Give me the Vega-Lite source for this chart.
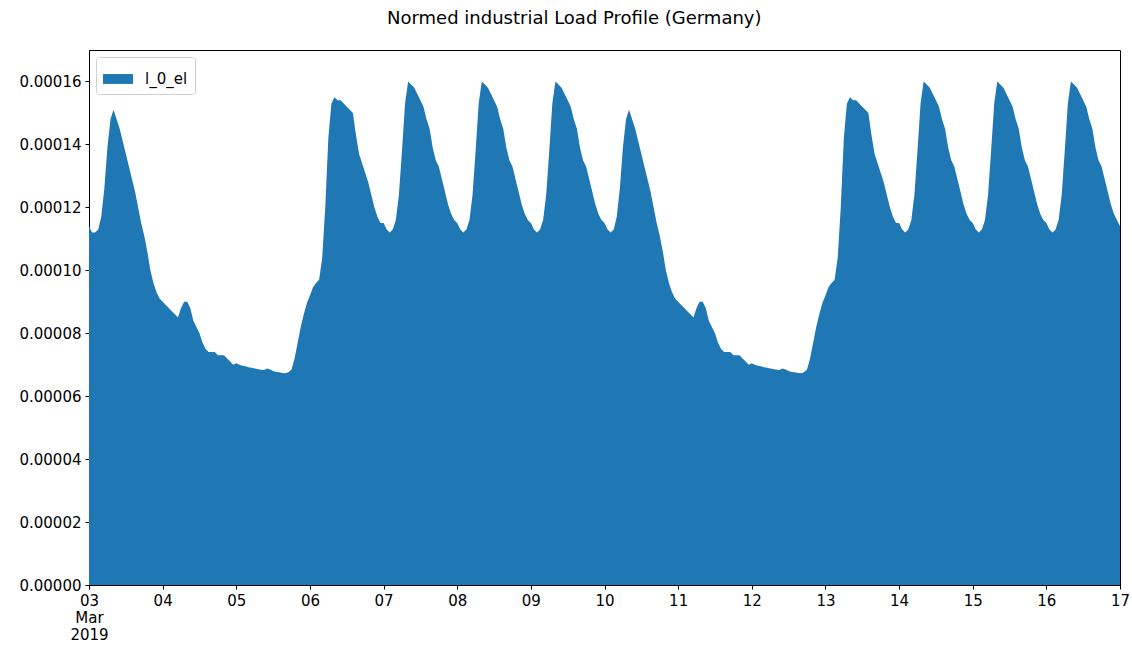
{
  "$schema": "https://vega.github.io/schema/vega-lite/v6.json",
  "width": 1031,
  "height": 535,
  "autosize": "none",
  "padding": {"left": 89, "top": 50, "right": 12, "bottom": 66},
  "background": "white",
  "config": {"font": "DejaVu Sans", "view": {"stroke": "black", "strokeWidth": 1}},
  "title": {"text": "Normed industrial Load Profile (Germany)", "fontSize": 18, "fontWeight": "normal", "font": "DejaVu Sans", "color": "black", "frame": "bounds", "anchor": "middle", "offset": 22},
  "data": {"values": [
{"t":"2019-03-03T00:00","v":1.14e-4},{"t":"2019-03-03T01:00","v":1.12e-4},{"t":"2019-03-03T02:00","v":1.12e-4},{"t":"2019-03-03T03:00","v":1.13e-4},{"t":"2019-03-03T04:00","v":1.17e-4},{"t":"2019-03-03T05:00","v":1.26e-4},{"t":"2019-03-03T06:00","v":1.39e-4},{"t":"2019-03-03T07:00","v":1.48e-4},{"t":"2019-03-03T08:00","v":1.51e-4},{"t":"2019-03-03T09:00","v":1.48e-4},{"t":"2019-03-03T10:00","v":1.45e-4},{"t":"2019-03-03T11:00","v":1.41e-4},{"t":"2019-03-03T12:00","v":1.37e-4},{"t":"2019-03-03T13:00","v":1.33e-4},{"t":"2019-03-03T14:00","v":1.29e-4},{"t":"2019-03-03T15:00","v":1.25e-4},{"t":"2019-03-03T16:00","v":1.20e-4},{"t":"2019-03-03T17:00","v":1.15e-4},{"t":"2019-03-03T18:00","v":1.11e-4},{"t":"2019-03-03T19:00","v":1.06e-4},{"t":"2019-03-03T20:00","v":1.00e-4},{"t":"2019-03-03T21:00","v":9.6e-5},{"t":"2019-03-03T22:00","v":9.3e-5},{"t":"2019-03-03T23:00","v":9.1e-5},
{"t":"2019-03-04T00:00","v":9.0e-5},{"t":"2019-03-04T01:00","v":8.9e-5},{"t":"2019-03-04T02:00","v":8.8e-5},{"t":"2019-03-04T03:00","v":8.7e-5},{"t":"2019-03-04T04:00","v":8.6e-5},{"t":"2019-03-04T05:00","v":8.5e-5},{"t":"2019-03-04T06:00","v":8.8e-5},{"t":"2019-03-04T07:00","v":9.0e-5},{"t":"2019-03-04T08:00","v":9.0e-5},{"t":"2019-03-04T09:00","v":8.8e-5},{"t":"2019-03-04T10:00","v":8.4e-5},{"t":"2019-03-04T11:00","v":8.2e-5},{"t":"2019-03-04T12:00","v":8.0e-5},{"t":"2019-03-04T13:00","v":7.7e-5},{"t":"2019-03-04T14:00","v":7.5e-5},{"t":"2019-03-04T15:00","v":7.4e-5},{"t":"2019-03-04T16:00","v":7.4e-5},{"t":"2019-03-04T17:00","v":7.4e-5},{"t":"2019-03-04T18:00","v":7.3e-5},{"t":"2019-03-04T19:00","v":7.3e-5},{"t":"2019-03-04T20:00","v":7.3e-5},{"t":"2019-03-04T21:00","v":7.2e-5},{"t":"2019-03-04T22:00","v":7.1e-5},{"t":"2019-03-04T23:00","v":7.0e-5},
{"t":"2019-03-05T00:00","v":7.05e-5},{"t":"2019-03-05T01:00","v":7.0e-5},{"t":"2019-03-05T02:00","v":6.97e-5},{"t":"2019-03-05T03:00","v":6.95e-5},{"t":"2019-03-05T04:00","v":6.92e-5},{"t":"2019-03-05T05:00","v":6.9e-5},{"t":"2019-03-05T06:00","v":6.88e-5},{"t":"2019-03-05T07:00","v":6.86e-5},{"t":"2019-03-05T08:00","v":6.84e-5},{"t":"2019-03-05T09:00","v":6.83e-5},{"t":"2019-03-05T10:00","v":6.88e-5},{"t":"2019-03-05T11:00","v":6.85e-5},{"t":"2019-03-05T12:00","v":6.8e-5},{"t":"2019-03-05T13:00","v":6.77e-5},{"t":"2019-03-05T14:00","v":6.76e-5},{"t":"2019-03-05T15:00","v":6.74e-5},{"t":"2019-03-05T16:00","v":6.73e-5},{"t":"2019-03-05T17:00","v":6.76e-5},{"t":"2019-03-05T18:00","v":6.85e-5},{"t":"2019-03-05T19:00","v":7.2e-5},{"t":"2019-03-05T20:00","v":7.7e-5},{"t":"2019-03-05T21:00","v":8.2e-5},{"t":"2019-03-05T22:00","v":8.6e-5},{"t":"2019-03-05T23:00","v":8.95e-5},
{"t":"2019-03-06T00:00","v":9.2e-5},{"t":"2019-03-06T01:00","v":9.46e-5},{"t":"2019-03-06T02:00","v":9.6e-5},{"t":"2019-03-06T03:00","v":9.7e-5},{"t":"2019-03-06T04:00","v":1.04e-4},{"t":"2019-03-06T05:00","v":1.20e-4},{"t":"2019-03-06T06:00","v":1.42e-4},{"t":"2019-03-06T07:00","v":1.53e-4},{"t":"2019-03-06T08:00","v":1.55e-4},{"t":"2019-03-06T09:00","v":1.54e-4},{"t":"2019-03-06T10:00","v":1.54e-4},{"t":"2019-03-06T11:00","v":1.53e-4},{"t":"2019-03-06T12:00","v":1.52e-4},{"t":"2019-03-06T13:00","v":1.51e-4},{"t":"2019-03-06T14:00","v":1.50e-4},{"t":"2019-03-06T15:00","v":1.43e-4},{"t":"2019-03-06T16:00","v":1.37e-4},{"t":"2019-03-06T17:00","v":1.34e-4},{"t":"2019-03-06T18:00","v":1.31e-4},{"t":"2019-03-06T19:00","v":1.28e-4},{"t":"2019-03-06T20:00","v":1.24e-4},{"t":"2019-03-06T21:00","v":1.20e-4},{"t":"2019-03-06T22:00","v":1.17e-4},{"t":"2019-03-06T23:00","v":1.15e-4},
{"t":"2019-03-07T00:00","v":1.15e-4},{"t":"2019-03-07T01:00","v":1.13e-4},{"t":"2019-03-07T02:00","v":1.12e-4},{"t":"2019-03-07T03:00","v":1.13e-4},{"t":"2019-03-07T04:00","v":1.16e-4},{"t":"2019-03-07T05:00","v":1.24e-4},{"t":"2019-03-07T06:00","v":1.38e-4},{"t":"2019-03-07T07:00","v":1.53e-4},{"t":"2019-03-07T08:00","v":1.60e-4},{"t":"2019-03-07T09:00","v":1.59e-4},{"t":"2019-03-07T10:00","v":1.58e-4},{"t":"2019-03-07T11:00","v":1.56e-4},{"t":"2019-03-07T12:00","v":1.54e-4},{"t":"2019-03-07T13:00","v":1.52e-4},{"t":"2019-03-07T14:00","v":1.48e-4},{"t":"2019-03-07T15:00","v":1.45e-4},{"t":"2019-03-07T16:00","v":1.39e-4},{"t":"2019-03-07T17:00","v":1.35e-4},{"t":"2019-03-07T18:00","v":1.33e-4},{"t":"2019-03-07T19:00","v":1.29e-4},{"t":"2019-03-07T20:00","v":1.25e-4},{"t":"2019-03-07T21:00","v":1.21e-4},{"t":"2019-03-07T22:00","v":1.18e-4},{"t":"2019-03-07T23:00","v":1.16e-4},
{"t":"2019-03-08T00:00","v":1.15e-4},{"t":"2019-03-08T01:00","v":1.13e-4},{"t":"2019-03-08T02:00","v":1.12e-4},{"t":"2019-03-08T03:00","v":1.13e-4},{"t":"2019-03-08T04:00","v":1.16e-4},{"t":"2019-03-08T05:00","v":1.24e-4},{"t":"2019-03-08T06:00","v":1.38e-4},{"t":"2019-03-08T07:00","v":1.53e-4},{"t":"2019-03-08T08:00","v":1.60e-4},{"t":"2019-03-08T09:00","v":1.59e-4},{"t":"2019-03-08T10:00","v":1.58e-4},{"t":"2019-03-08T11:00","v":1.56e-4},{"t":"2019-03-08T12:00","v":1.54e-4},{"t":"2019-03-08T13:00","v":1.52e-4},{"t":"2019-03-08T14:00","v":1.48e-4},{"t":"2019-03-08T15:00","v":1.45e-4},{"t":"2019-03-08T16:00","v":1.39e-4},{"t":"2019-03-08T17:00","v":1.35e-4},{"t":"2019-03-08T18:00","v":1.33e-4},{"t":"2019-03-08T19:00","v":1.29e-4},{"t":"2019-03-08T20:00","v":1.25e-4},{"t":"2019-03-08T21:00","v":1.21e-4},{"t":"2019-03-08T22:00","v":1.18e-4},{"t":"2019-03-08T23:00","v":1.16e-4},
{"t":"2019-03-09T00:00","v":1.15e-4},{"t":"2019-03-09T01:00","v":1.13e-4},{"t":"2019-03-09T02:00","v":1.12e-4},{"t":"2019-03-09T03:00","v":1.13e-4},{"t":"2019-03-09T04:00","v":1.16e-4},{"t":"2019-03-09T05:00","v":1.24e-4},{"t":"2019-03-09T06:00","v":1.38e-4},{"t":"2019-03-09T07:00","v":1.53e-4},{"t":"2019-03-09T08:00","v":1.60e-4},{"t":"2019-03-09T09:00","v":1.59e-4},{"t":"2019-03-09T10:00","v":1.58e-4},{"t":"2019-03-09T11:00","v":1.56e-4},{"t":"2019-03-09T12:00","v":1.54e-4},{"t":"2019-03-09T13:00","v":1.52e-4},{"t":"2019-03-09T14:00","v":1.48e-4},{"t":"2019-03-09T15:00","v":1.45e-4},{"t":"2019-03-09T16:00","v":1.39e-4},{"t":"2019-03-09T17:00","v":1.35e-4},{"t":"2019-03-09T18:00","v":1.33e-4},{"t":"2019-03-09T19:00","v":1.29e-4},{"t":"2019-03-09T20:00","v":1.25e-4},{"t":"2019-03-09T21:00","v":1.21e-4},{"t":"2019-03-09T22:00","v":1.18e-4},{"t":"2019-03-09T23:00","v":1.16e-4},
{"t":"2019-03-10T00:00","v":1.15e-4},{"t":"2019-03-10T01:00","v":1.13e-4},{"t":"2019-03-10T02:00","v":1.12e-4},{"t":"2019-03-10T03:00","v":1.13e-4},{"t":"2019-03-10T04:00","v":1.17e-4},{"t":"2019-03-10T05:00","v":1.26e-4},{"t":"2019-03-10T06:00","v":1.39e-4},{"t":"2019-03-10T07:00","v":1.48e-4},{"t":"2019-03-10T08:00","v":1.51e-4},{"t":"2019-03-10T09:00","v":1.48e-4},{"t":"2019-03-10T10:00","v":1.45e-4},{"t":"2019-03-10T11:00","v":1.41e-4},{"t":"2019-03-10T12:00","v":1.37e-4},{"t":"2019-03-10T13:00","v":1.33e-4},{"t":"2019-03-10T14:00","v":1.29e-4},{"t":"2019-03-10T15:00","v":1.25e-4},{"t":"2019-03-10T16:00","v":1.20e-4},{"t":"2019-03-10T17:00","v":1.15e-4},{"t":"2019-03-10T18:00","v":1.11e-4},{"t":"2019-03-10T19:00","v":1.06e-4},{"t":"2019-03-10T20:00","v":1.00e-4},{"t":"2019-03-10T21:00","v":9.6e-5},{"t":"2019-03-10T22:00","v":9.3e-5},{"t":"2019-03-10T23:00","v":9.1e-5},
{"t":"2019-03-11T00:00","v":9.0e-5},{"t":"2019-03-11T01:00","v":8.9e-5},{"t":"2019-03-11T02:00","v":8.8e-5},{"t":"2019-03-11T03:00","v":8.7e-5},{"t":"2019-03-11T04:00","v":8.6e-5},{"t":"2019-03-11T05:00","v":8.5e-5},{"t":"2019-03-11T06:00","v":8.8e-5},{"t":"2019-03-11T07:00","v":9.0e-5},{"t":"2019-03-11T08:00","v":9.0e-5},{"t":"2019-03-11T09:00","v":8.8e-5},{"t":"2019-03-11T10:00","v":8.4e-5},{"t":"2019-03-11T11:00","v":8.2e-5},{"t":"2019-03-11T12:00","v":8.0e-5},{"t":"2019-03-11T13:00","v":7.7e-5},{"t":"2019-03-11T14:00","v":7.5e-5},{"t":"2019-03-11T15:00","v":7.4e-5},{"t":"2019-03-11T16:00","v":7.4e-5},{"t":"2019-03-11T17:00","v":7.4e-5},{"t":"2019-03-11T18:00","v":7.3e-5},{"t":"2019-03-11T19:00","v":7.3e-5},{"t":"2019-03-11T20:00","v":7.3e-5},{"t":"2019-03-11T21:00","v":7.2e-5},{"t":"2019-03-11T22:00","v":7.1e-5},{"t":"2019-03-11T23:00","v":7.0e-5},
{"t":"2019-03-12T00:00","v":7.05e-5},{"t":"2019-03-12T01:00","v":7.0e-5},{"t":"2019-03-12T02:00","v":6.97e-5},{"t":"2019-03-12T03:00","v":6.95e-5},{"t":"2019-03-12T04:00","v":6.92e-5},{"t":"2019-03-12T05:00","v":6.9e-5},{"t":"2019-03-12T06:00","v":6.88e-5},{"t":"2019-03-12T07:00","v":6.86e-5},{"t":"2019-03-12T08:00","v":6.84e-5},{"t":"2019-03-12T09:00","v":6.83e-5},{"t":"2019-03-12T10:00","v":6.88e-5},{"t":"2019-03-12T11:00","v":6.85e-5},{"t":"2019-03-12T12:00","v":6.8e-5},{"t":"2019-03-12T13:00","v":6.77e-5},{"t":"2019-03-12T14:00","v":6.76e-5},{"t":"2019-03-12T15:00","v":6.74e-5},{"t":"2019-03-12T16:00","v":6.73e-5},{"t":"2019-03-12T17:00","v":6.76e-5},{"t":"2019-03-12T18:00","v":6.85e-5},{"t":"2019-03-12T19:00","v":7.2e-5},{"t":"2019-03-12T20:00","v":7.7e-5},{"t":"2019-03-12T21:00","v":8.2e-5},{"t":"2019-03-12T22:00","v":8.6e-5},{"t":"2019-03-12T23:00","v":8.95e-5},
{"t":"2019-03-13T00:00","v":9.2e-5},{"t":"2019-03-13T01:00","v":9.46e-5},{"t":"2019-03-13T02:00","v":9.6e-5},{"t":"2019-03-13T03:00","v":9.7e-5},{"t":"2019-03-13T04:00","v":1.04e-4},{"t":"2019-03-13T05:00","v":1.20e-4},{"t":"2019-03-13T06:00","v":1.42e-4},{"t":"2019-03-13T07:00","v":1.53e-4},{"t":"2019-03-13T08:00","v":1.55e-4},{"t":"2019-03-13T09:00","v":1.54e-4},{"t":"2019-03-13T10:00","v":1.54e-4},{"t":"2019-03-13T11:00","v":1.53e-4},{"t":"2019-03-13T12:00","v":1.52e-4},{"t":"2019-03-13T13:00","v":1.51e-4},{"t":"2019-03-13T14:00","v":1.50e-4},{"t":"2019-03-13T15:00","v":1.43e-4},{"t":"2019-03-13T16:00","v":1.37e-4},{"t":"2019-03-13T17:00","v":1.34e-4},{"t":"2019-03-13T18:00","v":1.31e-4},{"t":"2019-03-13T19:00","v":1.28e-4},{"t":"2019-03-13T20:00","v":1.24e-4},{"t":"2019-03-13T21:00","v":1.20e-4},{"t":"2019-03-13T22:00","v":1.17e-4},{"t":"2019-03-13T23:00","v":1.15e-4},
{"t":"2019-03-14T00:00","v":1.15e-4},{"t":"2019-03-14T01:00","v":1.13e-4},{"t":"2019-03-14T02:00","v":1.12e-4},{"t":"2019-03-14T03:00","v":1.13e-4},{"t":"2019-03-14T04:00","v":1.16e-4},{"t":"2019-03-14T05:00","v":1.24e-4},{"t":"2019-03-14T06:00","v":1.38e-4},{"t":"2019-03-14T07:00","v":1.53e-4},{"t":"2019-03-14T08:00","v":1.60e-4},{"t":"2019-03-14T09:00","v":1.59e-4},{"t":"2019-03-14T10:00","v":1.58e-4},{"t":"2019-03-14T11:00","v":1.56e-4},{"t":"2019-03-14T12:00","v":1.54e-4},{"t":"2019-03-14T13:00","v":1.52e-4},{"t":"2019-03-14T14:00","v":1.48e-4},{"t":"2019-03-14T15:00","v":1.45e-4},{"t":"2019-03-14T16:00","v":1.39e-4},{"t":"2019-03-14T17:00","v":1.35e-4},{"t":"2019-03-14T18:00","v":1.33e-4},{"t":"2019-03-14T19:00","v":1.29e-4},{"t":"2019-03-14T20:00","v":1.25e-4},{"t":"2019-03-14T21:00","v":1.21e-4},{"t":"2019-03-14T22:00","v":1.18e-4},{"t":"2019-03-14T23:00","v":1.16e-4},
{"t":"2019-03-15T00:00","v":1.15e-4},{"t":"2019-03-15T01:00","v":1.13e-4},{"t":"2019-03-15T02:00","v":1.12e-4},{"t":"2019-03-15T03:00","v":1.13e-4},{"t":"2019-03-15T04:00","v":1.16e-4},{"t":"2019-03-15T05:00","v":1.24e-4},{"t":"2019-03-15T06:00","v":1.38e-4},{"t":"2019-03-15T07:00","v":1.53e-4},{"t":"2019-03-15T08:00","v":1.60e-4},{"t":"2019-03-15T09:00","v":1.59e-4},{"t":"2019-03-15T10:00","v":1.58e-4},{"t":"2019-03-15T11:00","v":1.56e-4},{"t":"2019-03-15T12:00","v":1.54e-4},{"t":"2019-03-15T13:00","v":1.52e-4},{"t":"2019-03-15T14:00","v":1.48e-4},{"t":"2019-03-15T15:00","v":1.45e-4},{"t":"2019-03-15T16:00","v":1.39e-4},{"t":"2019-03-15T17:00","v":1.35e-4},{"t":"2019-03-15T18:00","v":1.33e-4},{"t":"2019-03-15T19:00","v":1.29e-4},{"t":"2019-03-15T20:00","v":1.25e-4},{"t":"2019-03-15T21:00","v":1.21e-4},{"t":"2019-03-15T22:00","v":1.18e-4},{"t":"2019-03-15T23:00","v":1.16e-4},
{"t":"2019-03-16T00:00","v":1.15e-4},{"t":"2019-03-16T01:00","v":1.13e-4},{"t":"2019-03-16T02:00","v":1.12e-4},{"t":"2019-03-16T03:00","v":1.13e-4},{"t":"2019-03-16T04:00","v":1.16e-4},{"t":"2019-03-16T05:00","v":1.24e-4},{"t":"2019-03-16T06:00","v":1.38e-4},{"t":"2019-03-16T07:00","v":1.53e-4},{"t":"2019-03-16T08:00","v":1.60e-4},{"t":"2019-03-16T09:00","v":1.59e-4},{"t":"2019-03-16T10:00","v":1.58e-4},{"t":"2019-03-16T11:00","v":1.56e-4},{"t":"2019-03-16T12:00","v":1.54e-4},{"t":"2019-03-16T13:00","v":1.52e-4},{"t":"2019-03-16T14:00","v":1.48e-4},{"t":"2019-03-16T15:00","v":1.45e-4},{"t":"2019-03-16T16:00","v":1.39e-4},{"t":"2019-03-16T17:00","v":1.35e-4},{"t":"2019-03-16T18:00","v":1.33e-4},{"t":"2019-03-16T19:00","v":1.29e-4},{"t":"2019-03-16T20:00","v":1.25e-4},{"t":"2019-03-16T21:00","v":1.21e-4},{"t":"2019-03-16T22:00","v":1.18e-4},{"t":"2019-03-16T23:00","v":1.16e-4},
{"t":"2019-03-17T00:00","v":1.14e-4}
  ]},
  "mark": {"type": "area", "interpolate": "linear", "opacity": 1},
  "encoding": {
    "x": {
      "field": "t", "type": "temporal",
      "scale": {"domain": [{"year": 2019, "month": 3, "date": 3}, {"year": 2019, "month": 3, "date": 17}], "nice": false},
      "axis": {
        "title": null, "grid": false,
        "values": [{"year":2019,"month":3,"date":3},{"year":2019,"month":3,"date":4},{"year":2019,"month":3,"date":5},{"year":2019,"month":3,"date":6},{"year":2019,"month":3,"date":7},{"year":2019,"month":3,"date":8},{"year":2019,"month":3,"date":9},{"year":2019,"month":3,"date":10},{"year":2019,"month":3,"date":11},{"year":2019,"month":3,"date":12},{"year":2019,"month":3,"date":13},{"year":2019,"month":3,"date":14},{"year":2019,"month":3,"date":15},{"year":2019,"month":3,"date":16},{"year":2019,"month":3,"date":17}],
        "labelExpr": "date(datum.value) == 3 ? ['03', 'Mar', '2019'] : timeFormat(datum.value, '%d')",
        "labelAngle": 0, "labelOverlap": false, "labelFlush": false,
        "labelFontSize": 15, "labelColor": "black", "labelFont": "DejaVu Sans", "labelLineHeight": 17,
        "domainColor": "black", "tickColor": "black", "tickSize": 4, "labelPadding": 4
      }
    },
    "y": {
      "field": "v", "type": "quantitative",
      "scale": {"domain": [0, 0.00017], "nice": false},
      "axis": {
        "title": null, "grid": false,
        "values": [0, 0.00002, 0.00004, 0.00006, 0.00008, 0.0001, 0.00012, 0.00014, 0.00016],
        "format": ".5f",
        "labelFontSize": 15, "labelColor": "black", "labelFont": "DejaVu Sans",
        "domainColor": "black", "tickColor": "black", "tickSize": 4, "labelPadding": 4
      }
    },
    "color": {
      "datum": "l_0_el", "type": "nominal",
      "scale": {"range": ["#1f77b4"]},
      "legend": {
        "title": null, "orient": "top-left", "offset": 7,
        "symbolType": "M-1,-0.33H1V0.33H-1Z", "symbolSize": 900, "symbolOpacity": 1, "symbolStrokeWidth": 0,
        "labelFontSize": 15, "labelColor": "black", "labelFont": "DejaVu Sans", "labelOffset": 12,
        "fillColor": "white", "strokeColor": "#d0d0d0", "cornerRadius": 3, "padding": 7
      }
    }
  }
}
